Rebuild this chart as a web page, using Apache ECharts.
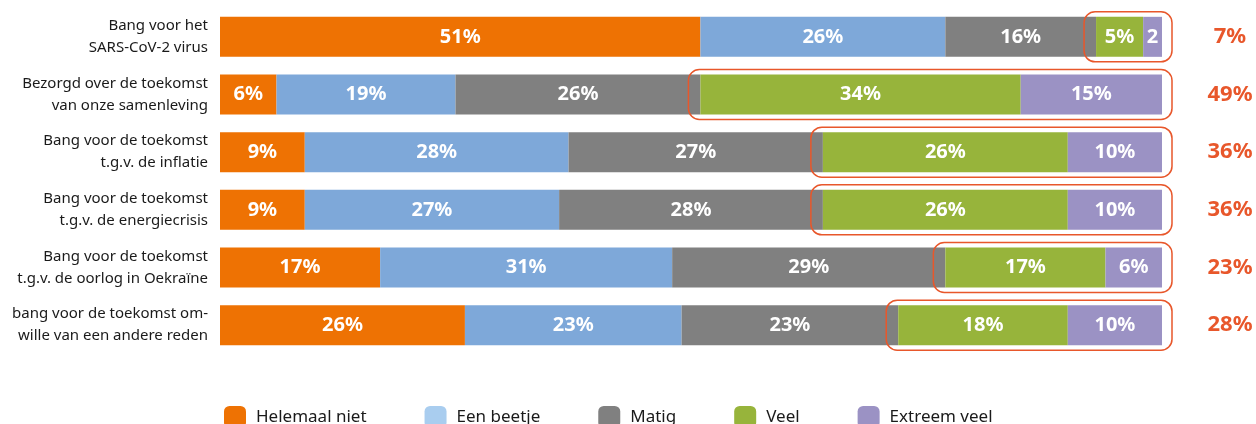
<!DOCTYPE html>
<html>
<head>
<meta charset="utf-8">
<script src="https://cdn.jsdelivr.net/npm/echarts@6/dist/echarts.min.js"></script>
<style>
html,body{margin:0;padding:0;background:#fff;}
#chart{width:1256px;height:424px;}
</style>
</head>
<body>
<div id="chart"></div>
<script>
const categories = [
  'Bang voor het\nSARS-CoV-2 virus',
  'Bezorgd over de toekomst\nvan onze samenleving',
  'Bang voor de toekomst\nt.g.v. de inflatie',
  'Bang voor de toekomst\nt.g.v. de energiecrisis',
  'Bang voor de toekomst\nt.g.v. de oorlog in Oekraïne',
  'bang voor de toekomst om-\nwille van een andere reden'
];
const seriesNames = ['Helemaal niet', 'Een beetje', 'Matig', 'Veel', 'Extreem veel'];
const helemaalNiet = [51, 6, 9, 9, 17, 26];
const eenBeetje = [26, 19, 28, 27, 31, 23];
const matig = [16, 26, 27, 28, 29, 23];
const veel = [5, 34, 26, 26, 17, 18];
const extreemVeel = [2, 15, 10, 10, 6, 10];

const colors = ['#ee7203', '#7ea8d9', '#808080', '#97b43b', '#9b92c4'];
const legendColors = ['#ee7203', '#a9cdef', '#808080', '#97b43b', '#9b92c4'];
const accent = '#e8572b';
const FONT = '"Noto Sans", sans-serif';

const allValues = [helemaalNiet, eenBeetje, matig, veel, extreemVeel];

const barSeries = seriesNames.map((name, k) => ({
  name: name,
  type: 'bar',
  stack: 'total',
  barWidth: 40,
  data: allValues[k],
  itemStyle: { color: colors[k] },
  label: {
    show: true,
    position: 'inside',
    color: '#fff',
    fontFamily: FONT,
    fontSize: 20,
    fontWeight: 'bold',
    formatter: p => (p.value < 3 ? String(p.value) : p.value + '%')
  },
  emphasis: { disabled: true }
}));

const boxData = categories.map((c, i) => {
  const start = helemaalNiet[i] + eenBeetje[i] + matig[i];
  const end = start + veel[i] + extreemVeel[i];
  return [start, i, end, veel[i] + extreemVeel[i]];
});

const boxSeries = {
  type: 'custom',
  name: 'box',
  data: boxData,
  encode: { x: [0, 2], y: 1 },
  silent: true,
  z: 10,
  renderItem: function (params, api) {
    const s = api.coord([api.value(0), api.value(1)]);
    const e = api.coord([api.value(2), api.value(1)]);
    const x0 = s[0] - 12, x1 = e[0] + 10;
    return {
      type: 'group',
      children: [
        {
          type: 'rect',
          shape: { x: x0, y: s[1] - 25, width: x1 - x0, height: 50, r: 11 },
          style: { fill: 'none', stroke: accent, lineWidth: 1.5 }
        },
        {
          type: 'text',
          style: {
            x: e[0] + 68, y: s[1],
            text: api.value(3) + '%',
            fill: accent,
            font: 'bold 22px ' + FONT,
            align: 'center',
            verticalAlign: 'middle'
          }
        }
      ]
    };
  }
};

const chart = echarts.init(document.getElementById('chart'), null, { renderer: 'canvas' });
chart.setOption({
  animation: false,
  grid: { left: 220, right: 94, top: 8, bottom: 70, containLabel: false },
  xAxis: { type: 'value', min: 0, max: 100, show: false },
  yAxis: {
    type: 'category',
    data: categories,
    inverse: true,
    axisLine: { show: false },
    axisTick: { show: false },
    axisLabel: {
      margin: 12,
      fontFamily: FONT,
      fontSize: 15,
      lineHeight: 22,
      color: '#1a1a1a',
      align: 'right'
    }
  },
  legend: {
    left: 219,
    top: 401,
    itemWidth: 22,
    itemHeight: 22,
    itemGap: 58,
    icon: 'roundRect',
    textStyle: { fontFamily: FONT, fontSize: 17, color: '#1a1a1a', padding: [0, 0, 0, 5] },
    data: seriesNames.map((n, k) => ({ name: n, itemStyle: { color: legendColors[k] } }))
  },
  series: barSeries.concat([boxSeries])
});
</script>
</body>
</html>
